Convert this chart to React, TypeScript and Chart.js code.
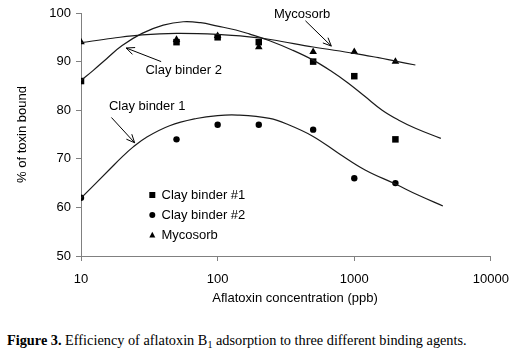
import React, { useEffect, useRef } from 'react';
import { Chart, registerables } from 'chart.js';

Chart.register(...registerables);

// Measured data (ppb vs % of toxin bound)
const concentrations = [10, 50, 100, 200, 500, 1000, 2000];
const clayBinder1 = [86, 94, 95, 94, 90, 87, 74];
const clayBinder2 = [62, 74, 77, 77, 76, 66, 65];
const mycosorb = [94, 94.5, 95.3, 93, 92, 92, 90];

// Trend curves
const fit1X = [10, 12.3, 15.4, 20, 28, 40, 56, 75, 100, 136, 170, 240, 350, 500, 680, 900, 1200, 1600, 2100, 2800, 4300];
const fit1Y = [86.1, 88.2, 90.6, 93.3, 95.8, 97.5, 98.2, 98.0, 97.3, 96.5, 95.7, 94.3, 92.4, 90.3, 88.0, 85.6, 82.8, 80.0, 78.0, 76.3, 74.2];
const fit2X = [10, 16.3, 20, 24, 30, 44.5, 70, 100, 140, 240, 330, 500, 770, 1200, 2000, 2900, 4450];
const fit2Y = [61.9, 67.9, 70.4, 72.4, 74.4, 76.8, 78.3, 78.9, 79.0, 78.3, 77.0, 74.6, 71.1, 67.7, 64.8, 62.6, 60.3];
const fitMX = [10, 17, 28, 50, 100, 170, 250, 500, 1000, 1500, 2000, 2800];
const fitMY = [93.9, 94.8, 95.5, 95.8, 95.6, 95.1, 94.5, 93.0, 91.7, 90.8, 90.1, 89.3];

const xTicks = [10, 100, 1000, 10000];
const legendLabels = ['Clay binder #1', 'Clay binder #2', 'Mycosorb'];
const xTitle = 'Aflatoxin concentration (ppb)';
const yTitle = '% of toxin bound';

// annotations: label, text anchor (data), arrow start (data), arrow end (data)
const annotations = [
  { text: 'Mycosorb', tx: 258, ty: 99.8, ax1: 439, ay1: 98.4, ax2: 679, ay2: 93.2 },
  { text: 'Clay binder 2', tx: 29.6, ty: 88.1, ax1: 38.6, ay1: 90.0, ax2: 21.4, ay2: 92.8 },
  { text: 'Clay binder 1', tx: 16.0, ty: 80.8, ax1: 16.7, ay1: 78.5, ax2: 24.7, ay2: 73.3 },
];

const SANS = "'Liberation Sans', Arial, sans-serif";

const toPts = (xs: number[], ys: number[]) => xs.map((x, i) => ({ x, y: ys[i] }));

function drawMarker(ctx: CanvasRenderingContext2D, kind: string, x: number, y: number, r: number) {
  ctx.beginPath();
  if (kind === 'rect') {
    ctx.rect(x - r, y - r, 2 * r, 2 * r);
  } else if (kind === 'circle') {
    ctx.arc(x, y, r, 0, Math.PI * 2);
  } else {
    ctx.moveTo(x, y - r * 1.1);
    ctx.lineTo(x + r, y + r * 0.8);
    ctx.lineTo(x - r, y + r * 0.8);
    ctx.closePath();
  }
  ctx.fill();
}

const overlayPlugin = {
  id: 'overlay',
  afterDraw(chart: any) {
    const { ctx, scales, chartArea } = chart;
    const xs = scales.x;
    const ys = scales.y;
    ctx.save();
    ctx.fillStyle = '#000';
    ctx.strokeStyle = '#000';
    ctx.font = `13px ${SANS}`;
    ctx.textBaseline = 'middle';
    ctx.textAlign = 'left';
    ctx.lineWidth = 1;
    for (const a of annotations) {
      const tx = xs.getPixelForValue(a.tx);
      const ty = ys.getPixelForValue(a.ty);
      ctx.fillText(a.text, tx, ty);
      const x1 = xs.getPixelForValue(a.ax1);
      const y1 = ys.getPixelForValue(a.ay1);
      const x2 = xs.getPixelForValue(a.ax2);
      const y2 = ys.getPixelForValue(a.ay2);
      ctx.beginPath();
      ctx.moveTo(x1, y1);
      ctx.lineTo(x2, y2);
      const ang = Math.atan2(y2 - y1, x2 - x1);
      const hl = 9;
      const spread = 0.42;
      ctx.moveTo(x2 - hl * Math.cos(ang - spread), y2 - hl * Math.sin(ang - spread));
      ctx.lineTo(x2, y2);
      ctx.lineTo(x2 - hl * Math.cos(ang + spread), y2 - hl * Math.sin(ang + spread));
      ctx.stroke();
    }
    // legend
    const kinds = ['rect', 'circle', 'triangle'];
    const lx = 152.3;
    const ly0 = 195;
    legendLabels.forEach((lab, i) => {
      const yy = ly0 + i * 20;
      drawMarker(ctx, kinds[i], lx, yy, 3);
      ctx.fillText(lab, 161.5, yy);
    });
    // axis titles
    ctx.textAlign = 'center';
    ctx.fillText(xTitle, 295, 298);
    ctx.save();
    ctx.translate(22, (chartArea.top + chartArea.bottom) / 2);
    ctx.rotate(-Math.PI / 2);
    ctx.fillText(yTitle, 0, 0);
    ctx.restore();
    ctx.restore();
  },
};

export default function App() {
  const ref = useRef<HTMLCanvasElement | null>(null);
  useEffect(() => {
    if (!ref.current) return;
    const lineDs = (label: string, xs: number[], ys: number[]) => ({
      label,
      data: toPts(xs, ys),
      showLine: true,
      borderColor: '#1a1a1a',
      borderWidth: 1.2,
      pointRadius: 0,
      tension: 0.4,
      fill: false,
    });
    const ptDs = (label: string, ys: number[], style: string, r: number) => ({
      label,
      data: toPts(concentrations, ys),
      showLine: false,
      pointStyle: style,
      pointRadius: r,
      backgroundColor: '#000',
      borderColor: '#000',
      borderWidth: 0,
    });
    const chart = new Chart(ref.current, {
      type: 'scatter',
      data: {
        datasets: [
          lineDs('fit1', fit1X, fit1Y),
          lineDs('fit2', fit2X, fit2Y),
          lineDs('fitM', fitMX, fitMY),
          ptDs('Clay binder #1', clayBinder1, 'rect', 4.6),
          ptDs('Clay binder #2', clayBinder2, 'circle', 3.2),
          ptDs('Mycosorb', mycosorb, 'triangle', 4.4),
        ] as any,
      },
      options: {
        responsive: false,
        animation: false,
        events: [],
        layout: { padding: { left: 0, top: 13, right: 27, bottom: 0 } },
        plugins: { legend: { display: false }, tooltip: { enabled: false } },
        scales: {
          x: {
            type: 'logarithmic',
            min: 10,
            max: 10000,
            afterBuildTicks: (s: any) => {
              s.ticks = xTicks.map((v) => ({ value: v }));
            },
            afterFit: (s: any) => {
              s.height = 59;
            },
            ticks: {
              callback: (v: any) => String(v),
              color: '#000',
              font: { family: SANS, size: 13 },
              padding: 11,
              maxRotation: 0,
              autoSkip: false,
            },
            grid: { drawOnChartArea: false, drawTicks: true, tickLength: 5, color: '#808080' },
            border: { color: '#808080', width: 1 },
          },
          y: {
            type: 'linear',
            min: 50,
            max: 100,
            afterFit: (s: any) => {
              s.width = 81;
            },
            ticks: {
              stepSize: 10,
              color: '#000',
              font: { family: SANS, size: 13 },
              padding: 5,
            },
            grid: { drawOnChartArea: false, drawTicks: true, tickLength: 5, color: '#808080' },
            border: { color: '#808080', width: 1 },
          },
        },
      } as any,
      plugins: [overlayPlugin],
    });
    return () => chart.destroy();
  }, []);

  return (
    <div style={{ position: 'absolute', left: 0, top: 0, width: 520, height: 354, background: '#fff' }}>
      <canvas ref={ref} width={520} height={315} style={{ position: 'absolute', left: 0, top: 0 }} />
      <div
        style={{
          position: 'absolute',
          left: 7,
          top: 332,
          fontFamily: "'Liberation Serif', 'Times New Roman', serif",
          fontSize: 14.3,
          lineHeight: '17px',
          whiteSpace: 'nowrap',
          color: '#000',
        }}
      >
        <b>Figure 3.</b> Efficiency of aflatoxin B
        <sub style={{ fontSize: 10, verticalAlign: -3, lineHeight: 0 }}>1</sub> adsorption to three different binding
        agents.
      </div>
    </div>
  );
}
